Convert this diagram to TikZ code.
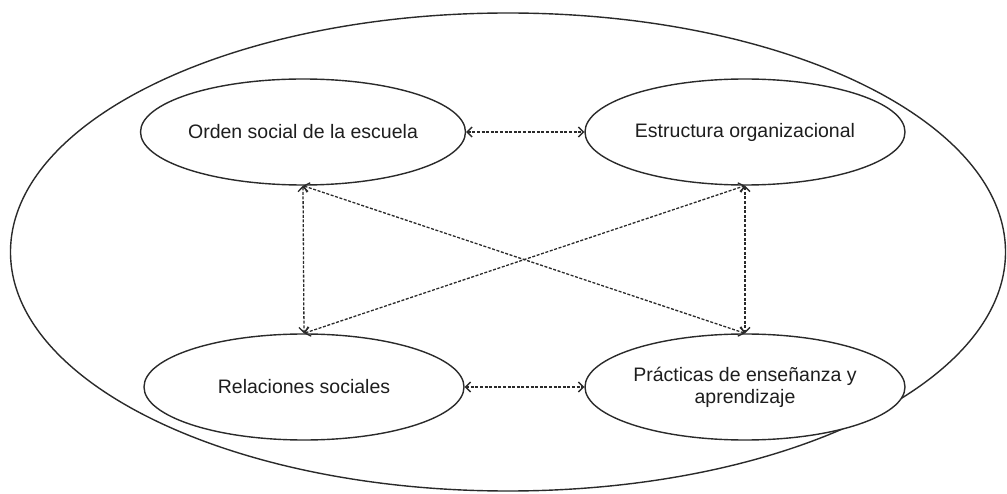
\documentclass[tikz,border=0pt]{standalone}
\usepackage{fontspec}
\setmainfont{Liberation Sans}
\usetikzlibrary{shapes.geometric,arrows.meta}
\definecolor{linegray}{HTML}{2A2A2A}
\definecolor{txt}{HTML}{1E1E1E}
\tikzset{
  bubble/.style={ellipse, draw=linegray, line width=1.4pt, minimum width=320pt, minimum height=106pt, inner sep=0pt, align=center, text=txt, font=\fontsize{19.5pt}{22pt}\selectfont, fill=white},
  link/.style={draw=linegray, line width=1.3pt, dash pattern=on 3pt off 1.6pt, {Straight Barb[length=5pt,width=10pt]}-{Straight Barb[length=5pt,width=10pt]}},
  outer/.style={draw=linegray, line width=1.4pt}
}
\begin{document}
\begin{tikzpicture}[x=1pt,y=-1pt]
\useasboundingbox (0,0) rectangle (1007,494);
\draw[outer] (508,252) ellipse [x radius=497.5, y radius=239];
\node[bubble] (a) at (303,132) {Orden social de la escuela};
\node[bubble] (b) at (745,132) {Estructura organizacional};
\node[bubble] (c) at (304,387) {Relaciones sociales};
\node[bubble] (d) at (745,387) {Prácticas de enseñanza y\\aprendizaje};
\draw[link] (a.east) -- (b.west);
\draw[link] (c.east) -- (d.west);
\draw[link] (a.south) -- (c.north);
\draw[link] (b.south) -- (d.north);
\draw[link] (a.south) -- (d.north);
\draw[link] (c.north) -- (b.south);
\end{tikzpicture}
\end{document}
